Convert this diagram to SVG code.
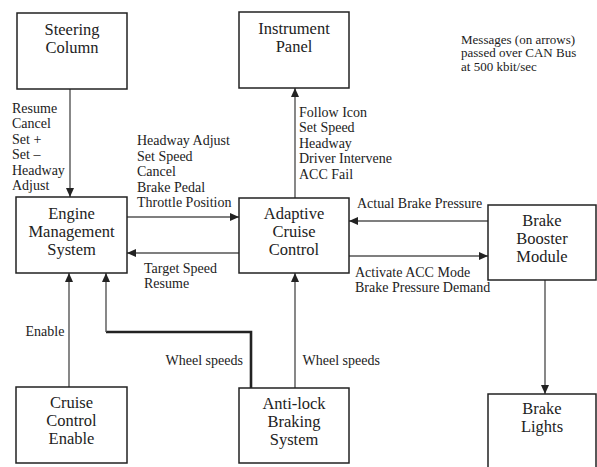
<svg xmlns="http://www.w3.org/2000/svg" width="597" height="467" viewBox="0 0 597 467">
<defs>
<marker id="ah" markerUnits="userSpaceOnUse" markerWidth="9" markerHeight="8" refX="9" refY="4" orient="auto">
<path d="M0,0 L9,4 L0,8 z" fill="#222"/>
</marker>
<style>
.box{fill:#fff;stroke:#222;stroke-width:1.5}
.bt{font-family:"Liberation Serif","Times New Roman",serif;font-size:16.5px;fill:#222;text-anchor:middle}
.lt{font-family:"Liberation Serif","Times New Roman",serif;font-size:14px;fill:#222}
.ln{fill:none;stroke:#555;stroke-width:1.4}
.thick{fill:none;stroke:#222;stroke-width:2.6}
</style>
</defs>
<rect width="597" height="467" fill="#fff"/>

<g id="connectors">
<line class="ln" x1="70" y1="89" x2="70" y2="197" marker-end="url(#ah)"/>
<line class="ln" x1="127" y1="217" x2="239" y2="217" marker-end="url(#ah)"/>
<line class="ln" x1="239" y1="253" x2="127" y2="253" marker-end="url(#ah)"/>
<line class="ln" x1="69" y1="387" x2="69" y2="273" marker-end="url(#ah)"/>
<polyline class="thick" points="251,388 251,332 106,332"/>
<line class="ln" x1="106" y1="332" x2="106" y2="273" marker-end="url(#ah)"/>
<line class="ln" x1="295" y1="388" x2="295" y2="273" marker-end="url(#ah)"/>
<line class="ln" x1="295" y1="198" x2="295" y2="88" marker-end="url(#ah)"/>
<line class="ln" x1="488" y1="221" x2="349" y2="221" marker-end="url(#ah)"/>
<line class="ln" x1="349" y1="256" x2="488" y2="256" marker-end="url(#ah)"/>
<line class="ln" x1="545" y1="280" x2="545" y2="394" marker-end="url(#ah)"/>

<text class="lt"><tspan x="12" y="112.5">Resume</tspan><tspan x="12" y="128">Cancel</tspan><tspan x="12" y="143.5">Set +</tspan><tspan x="12" y="159">Set –</tspan><tspan x="12" y="174.5">Headway</tspan><tspan x="12" y="190">Adjust</tspan></text>
<text class="lt"><tspan x="137" y="145">Headway Adjust</tspan><tspan x="137" y="160.5">Set Speed</tspan><tspan x="137" y="176">Cancel</tspan><tspan x="137" y="191.5">Brake Pedal</tspan><tspan x="137" y="207">Throttle Position</tspan></text>
<text class="lt"><tspan x="299" y="116.5">Follow Icon</tspan><tspan x="299" y="132">Set Speed</tspan><tspan x="299" y="147.5">Headway</tspan><tspan x="299" y="163">Driver Intervene</tspan><tspan x="299" y="178.5">ACC Fail</tspan></text>
<text class="lt"><tspan x="144" y="273">Target Speed</tspan><tspan x="144" y="288">Resume</tspan></text>
<text class="lt" x="357" y="208">Actual Brake Pressure</text>
<text class="lt"><tspan x="355" y="277">Activate ACC Mode</tspan><tspan x="355" y="292">Brake Pressure Demand</tspan></text>
<text class="lt" x="25.5" y="336">Enable</text>
<text class="lt" x="165.5" y="365">Wheel speeds</text>
<text class="lt" x="302.5" y="365">Wheel speeds</text>
</g>

<g id="steering">
<rect class="box" x="17" y="13" width="110" height="76"/>
<text class="bt"><tspan x="72" y="34.5">Steering</tspan><tspan x="72" y="52.5">Column</tspan></text>
</g>
<g id="instrument">
<rect class="box" x="239" y="12" width="110" height="76"/>
<text class="bt"><tspan x="294" y="34">Instrument</tspan><tspan x="294" y="52">Panel</tspan></text>
</g>
<g id="ems">
<rect class="box" x="16" y="197" width="111" height="76"/>
<text class="bt"><tspan x="71.5" y="218.5">Engine</tspan><tspan x="71.5" y="236.5">Management</tspan><tspan x="71.5" y="254.5">System</tspan></text>
</g>
<g id="acc">
<rect class="box" x="239" y="198" width="110" height="75"/>
<text class="bt"><tspan x="294" y="219">Adaptive</tspan><tspan x="294" y="237">Cruise</tspan><tspan x="294" y="255">Control</tspan></text>
</g>
<g id="bbm">
<rect class="box" x="488" y="205" width="108" height="75"/>
<text class="bt"><tspan x="542" y="225.5">Brake</tspan><tspan x="542" y="243.5">Booster</tspan><tspan x="542" y="261.5">Module</tspan></text>
</g>
<g id="cce">
<rect class="box" x="16" y="387" width="111" height="76"/>
<text class="bt"><tspan x="71.5" y="407.5">Cruise</tspan><tspan x="71.5" y="425.5">Control</tspan><tspan x="71.5" y="443.5">Enable</tspan></text>
</g>
<g id="abs">
<rect class="box" x="239" y="388" width="110" height="75"/>
<text class="bt"><tspan x="294" y="409">Anti-lock</tspan><tspan x="294" y="427">Braking</tspan><tspan x="294" y="445">System</tspan></text>
</g>
<g id="lights">
<rect class="box" x="488" y="394" width="108" height="80"/>
<text class="bt"><tspan x="542" y="414">Brake</tspan><tspan x="542" y="432">Lights</tspan></text>
</g>

<g id="note">
<text class="lt" style="font-size:13px"><tspan x="461" y="43.5">Messages (on arrows)</tspan><tspan x="461" y="57">passed over CAN Bus</tspan><tspan x="461" y="70.5">at 500 kbit/sec</tspan></text>
</g>
</svg>
